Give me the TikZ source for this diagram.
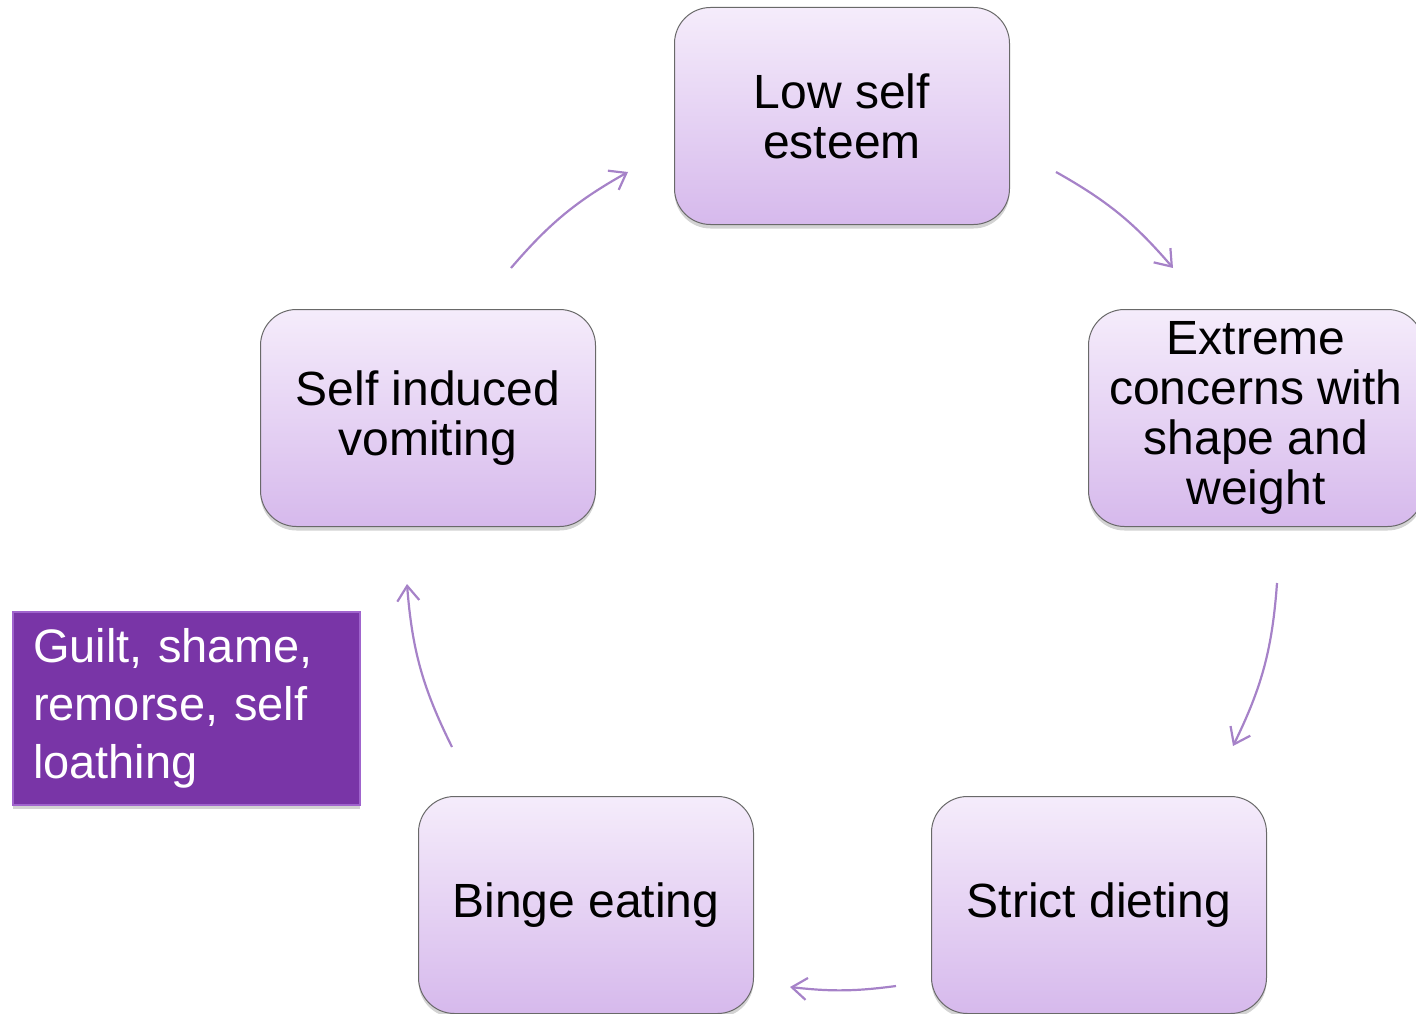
\documentclass[tikz,border=0pt]{standalone}
\usepackage{fontspec}
\setmainfont{Liberation Sans}
\usetikzlibrary{arrows.meta,shadows}
\definecolor{cycletop}{RGB}{245,236,251}
\definecolor{cyclebottom}{RGB}{214,185,236}
\definecolor{cycleedge}{RGB}{105,105,105}
\definecolor{cyclearrowcol}{RGB}{166,130,200}
\definecolor{guiltfill}{RGB}{121,53,167}
\definecolor{guiltedge}{RGB}{160,100,205}
\tikzset{
    cyclebox/.style={draw=cycleedge, line width=1pt, rounded corners=36pt,
        align=center, minimum width=335pt, minimum height=217pt,
        top color=cycletop, bottom color=cyclebottom,
        drop shadow={shadow xshift=0pt, shadow yshift=-4pt, opacity=.35},
        font=\fontsize{48}{50}\selectfont},
    guiltbox/.style={draw=guiltedge, line width=2pt, fill=guiltfill,
        text=white, align=left, text width=307pt, inner xsep=20pt,
        minimum height=193pt,
        drop shadow={shadow xshift=0pt, shadow yshift=-4pt, opacity=.35},
        font=\fontsize{47}{58}\selectfont},
    cyclearrow/.style={-{Straight Barb[length=15pt,width=22pt]},
        line width=2.2pt, cyclearrowcol}
}

\begin{document}
\begin{tikzpicture}[x=1pt, y=-1pt]
    \useasboundingbox (0,0) rectangle (1416,1014);
    \clip (0,0) rectangle (1416,1014);

    \node[cyclebox] (esteem) at (842,116) {Low self\\esteem};
    \node[cyclebox] (concerns) at (1256,418)
        {Extreme\\concerns with\\shape and\\weight};
    \node[cyclebox] (dieting) at (1099,905) {Strict dieting};
    \node[cyclebox] (binge) at (586,905) {Binge eating};
    \node[cyclebox] (vomiting) at (428,418) {Self induced\\vomiting};

    \node[guiltbox] (guilt) at (186.5,708.5)
        {Guilt, shame,\\remorse, self\\loathing};

    % arrow ends on the circle round the cycle
    \coordinate (a1s) at (1056,172);
    \coordinate (a1e) at (1173,268);
    \coordinate (a2s) at (1277,583);
    \coordinate (a2e) at (1233,746);
    \coordinate (a3s) at (896,986);
    \coordinate (a3e) at (790,987);
    \coordinate (a4s) at (452,747);
    \coordinate (a4e) at (407,584);
    \coordinate (a5s) at (511,268);
    \coordinate (a5e) at (628,172);

    \draw[cyclearrow] (a1s) to[bend left=10] (a1e);
    \draw[cyclearrow] (a2s) to[bend left=11] (a2e);
    \draw[cyclearrow] (a3s) to[bend left=7] (a3e);
    \draw[cyclearrow] (a4s) to[bend left=11] (a4e);
    \draw[cyclearrow] (a5s) to[bend left=10] (a5e);
\end{tikzpicture}
\end{document}
